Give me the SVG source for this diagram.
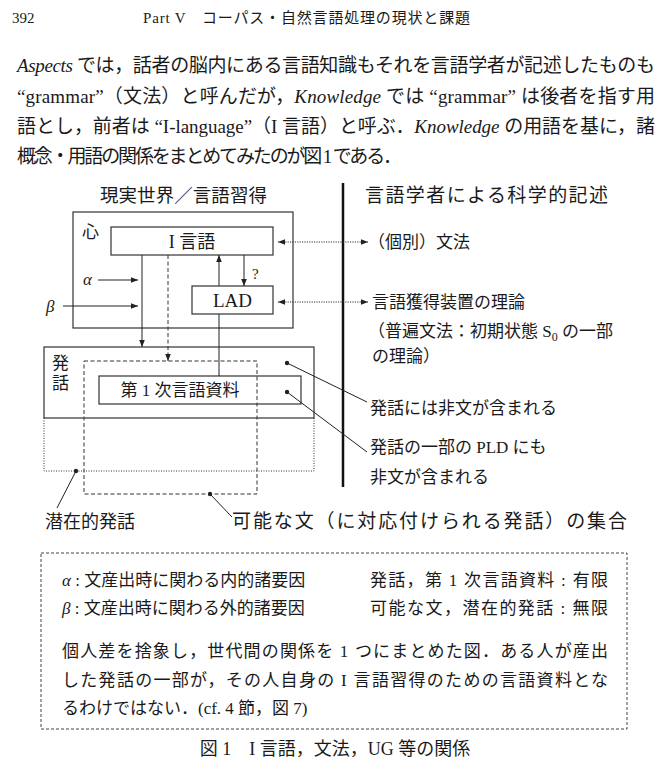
<svg xmlns="http://www.w3.org/2000/svg" width="670" height="779" viewBox="0 0 670 779">
<defs>
<style>
.t{font-family:"Liberation Serif","Noto Sans CJK JP",serif;fill:#1a1a1a}
.p{font-size:19px}
.d{font-size:17px}
.ln{stroke:#222;stroke-width:1;fill:none}
.box{stroke:#333;stroke-width:1.2;fill:none}
.dot{stroke:#333;stroke-width:1;stroke-dasharray:1 1.5;fill:none}
.dash{stroke:#333;stroke-width:1;stroke-dasharray:4 2.5;fill:none}
.dotl{stroke:#333;stroke-width:1;stroke-dasharray:1.2 1.2;fill:none}
</style>
<marker id="ah" viewBox="0 0 10 10" refX="10" refY="5" markerWidth="7" markerHeight="7" orient="auto-start-reverse" markerUnits="userSpaceOnUse">
<path d="M0,1 L10,5 L0,9 Z" fill="#222"/>
</marker>
</defs>
<rect width="670" height="779" fill="#fff"/>

<g id="page-header">
<text class="t" x="12" y="23" font-size="15">392</text>
<text class="t" x="143" y="23" font-size="15" textLength="327">Part V　コーパス・自然言語処理の現状と課題</text>
</g>

<g id="paragraph" class="t p">
<text x="17" y="72" textLength="638"><tspan font-style="italic">Aspects</tspan> では，話者の脳内にある言語知識もそれを言語学者が記述したものも</text>
<text x="17" y="103" textLength="638">“grammar”（文法）と呼んだが，<tspan font-style="italic">Knowledge</tspan> では “grammar” は後者を指す用</text>
<text x="17" y="133" textLength="638">語とし，前者は “I-language”（I 言語）と呼ぶ．<tspan font-style="italic">Knowledge</tspan> の用語を基に，諸</text>
<text x="17" y="163" textLength="385">概念・用語の関係をまとめてみたのが図 1 である．</text>
</g>

<g id="col-headers" class="t">
<text x="100" y="202" font-size="18.5" textLength="167">現実世界／言語習得</text>
<text x="365" y="202" font-size="19" textLength="243">言語学者による科学的記述</text>
</g>
<line id="divider" x1="343" y1="183" x2="343" y2="487" stroke="#111" stroke-width="2.5"/>

<g id="node-mind">
<rect class="box" x="73" y="212" width="220" height="116"/>
<text class="t d" x="82" y="238">心</text>
</g>
<g id="node-ilang">
<rect class="box" x="111" y="227" width="162" height="28"/>
<text class="t" x="192" y="247.5" font-size="18" text-anchor="middle">I 言語</text>
</g>
<g id="node-lad">
<rect class="box" x="192" y="286" width="81" height="28"/>
<text class="t" x="232.5" y="307" font-size="19" text-anchor="middle">LAD</text>
</g>
<g id="node-alpha"><text class="t" x="83" y="285" font-size="17" font-style="italic">α</text></g>
<g id="node-beta"><text class="t" x="46" y="312" font-size="17" font-style="italic">β</text></g>

<g id="node-utterance">
<rect class="box" x="44" y="347" width="270" height="71"/>
<text class="t d" x="52" y="369">発</text>
<text class="t d" x="52" y="389">話</text>
</g>
<g id="node-potential">
<path class="dot" d="M44,418 V471 H314 V418"/>
</g>
<g id="node-possible">
<rect class="dash" x="84" y="361" width="173" height="133"/>
</g>
<g id="node-pld">
<rect class="box" x="99" y="376" width="202" height="28"/>
<text class="t d" x="180" y="396" text-anchor="middle">第 1 次言語資料</text>
</g>

<g id="labels-right" class="t d">
<text x="368" y="248">（個別）文法</text>
<text x="372" y="308">言語獲得装置の理論</text>
<text x="368" y="337">（普遍文法：初期状態 S<tspan font-size="12" dy="4">0</tspan><tspan dy="-4"> の一部</tspan></text>
<text x="372" y="362">の理論）</text>
<text x="370" y="414">発話には非文が含まれる</text>
<text x="370" y="453">発話の一部の PLD にも</text>
<text x="370" y="483">非文が含まれる</text>
</g>
<g id="labels-bottom" class="t">
<text x="45" y="528" font-size="18">潜在的発話</text>
<text x="232" y="528" font-size="19" textLength="395">可能な文（に対応付けられる発話）の集合</text>
</g>

<g id="connectors">
<line class="ln" x1="142" y1="255" x2="142" y2="347" marker-end="url(#ah)"/>
<line class="dash" x1="168" y1="255" x2="168" y2="361" marker-end="url(#ah)"/>
<line class="ln" x1="219" y1="286" x2="219" y2="255" marker-end="url(#ah)"/>
<line class="ln" x1="244" y1="255" x2="244" y2="286" marker-end="url(#ah)"/>
<text class="t" x="252" y="279" font-size="15">?</text>
<line class="ln" x1="219" y1="314" x2="219" y2="376"/>
<line class="ln" x1="98" y1="280" x2="138" y2="280" marker-end="url(#ah)"/>
<line class="ln" x1="63" y1="306" x2="138" y2="306" marker-end="url(#ah)"/>
<line class="dotl" x1="278" y1="242" x2="368" y2="242" marker-start="url(#ah)" marker-end="url(#ah)"/>
<line class="dotl" x1="278" y1="302" x2="368" y2="302" marker-start="url(#ah)" marker-end="url(#ah)"/>
<circle cx="287" cy="363" r="2.2" fill="#222"/>
<line class="ln" x1="287" y1="363" x2="367" y2="402"/>
<circle cx="287" cy="392" r="2.2" fill="#222"/>
<line class="ln" x1="287" y1="392" x2="367" y2="452"/>
<circle cx="76" cy="471" r="2.2" fill="#222"/>
<line class="ln" x1="76" y1="471" x2="57" y2="508"/>
<circle cx="210" cy="494" r="2.2" fill="#222"/>
<line class="ln" x1="210" y1="494" x2="232" y2="517"/>
</g>

<g id="legend">
<rect x="41" y="553" width="586" height="176" fill="none" stroke="#444" stroke-width="1" stroke-dasharray="3 2"/>
<g class="t" font-size="17">
<text x="62" y="586"><tspan font-style="italic">α</tspan> : 文産出時に関わる内的諸要因</text>
<text x="370" y="586" textLength="238">発話，第 1 次言語資料 : 有限</text>
<text x="62" y="614"><tspan font-style="italic">β</tspan> : 文産出時に関わる外的諸要因</text>
<text x="370" y="614" textLength="238">可能な文，潜在的発話 : 無限</text>
<text x="62" y="657" textLength="546">個人差を捨象し，世代間の関係を 1 つにまとめた図．ある人が産出</text>
<text x="62" y="686" textLength="546">した発話の一部が，その人自身の I 言語習得のための言語資料とな</text>
<text x="62" y="714">るわけではない．(cf. 4 節，図 7)</text>
</g>
</g>

<g id="caption">
<text class="t" x="335" y="755" font-size="18" text-anchor="middle">図 1　I 言語，文法，UG 等の関係</text>
</g>
</svg>
